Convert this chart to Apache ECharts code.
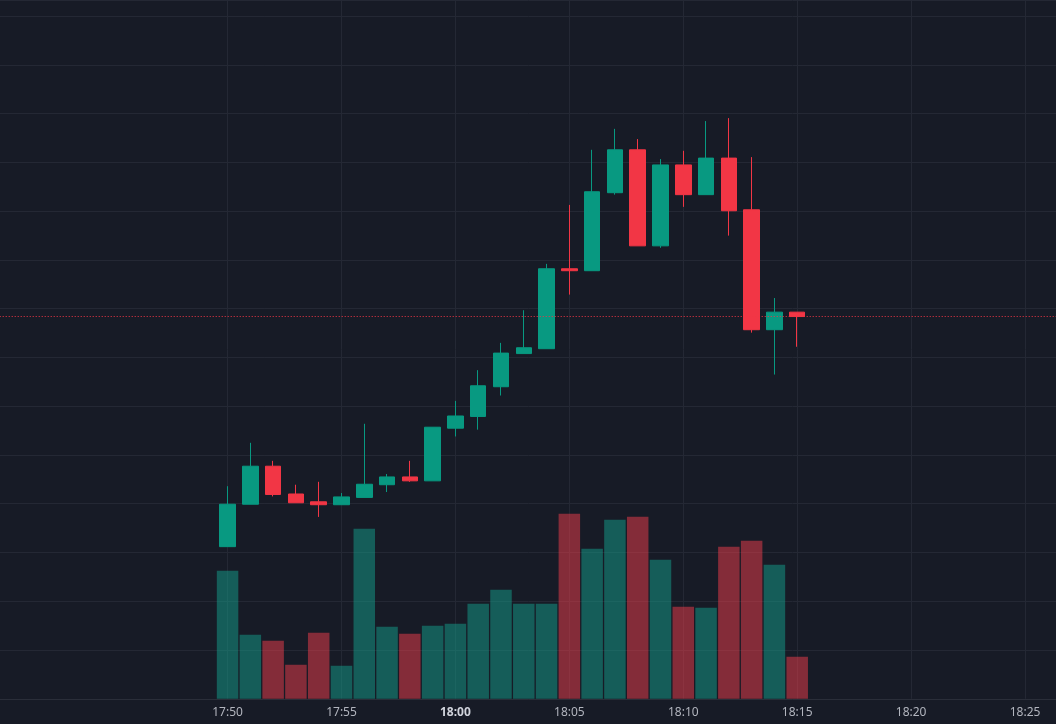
<!DOCTYPE html>
<html>
<head>
<meta charset="utf-8">
<title>candles</title>
<script src="https://cdn.jsdelivr.net/npm/echarts@6/dist/echarts.min.js"></script>
<style>
  html, body { margin: 0; padding: 0; background: #171b26; }
  #chart { width: 1056px; height: 724px; }
</style>
</head>
<body>
<div id="chart"></div>
<script>
// minute candles, 17:50 - 18:15
var candleTimes = ['17:50', '17:51', '17:52', '17:53', '17:54', '17:55', '17:56', '17:57', '17:58', '17:59',
    '18:00', '18:01', '18:02', '18:03', '18:04', '18:05', '18:06', '18:07', '18:08', '18:09',
    '18:10', '18:11', '18:12', '18:13', '18:14', '18:15'];
// [open, close, low, high]
var ohlc = [
    [1031.2, 1039.9, 1031.2, 1043.6],
    [1039.9, 1047.7, 1039.9, 1052.5],
    [1047.7, 1041.9, 1041.5, 1048.8],
    [1042.0, 1040.2, 1040.2, 1043.9],
    [1040.4, 1039.8, 1037.3, 1044.5],
    [1039.8, 1041.4, 1039.8, 1042.2],
    [1041.3, 1044.0, 1041.3, 1056.4],
    [1043.9, 1045.5, 1042.4, 1046.1],
    [1045.5, 1044.7, 1044.5, 1048.8],
    [1044.7, 1055.7, 1044.7, 1055.7],
    [1055.5, 1058.0, 1053.8, 1061.1],
    [1057.9, 1064.2, 1055.2, 1067.4],
    [1064.0, 1070.9, 1062.2, 1073.0],
    [1070.8, 1072.0, 1070.8, 1079.7],
    [1071.8, 1088.2, 1071.8, 1089.2],
    [1088.2, 1087.8, 1082.9, 1101.3],
    [1087.8, 1104.0, 1087.8, 1112.6],
    [1103.8, 1112.6, 1103.4, 1116.9],
    [1112.6, 1092.9, 1092.9, 1114.8],
    [1092.9, 1109.5, 1092.5, 1110.7],
    [1109.5, 1103.4, 1100.9, 1112.4],
    [1103.4, 1110.9, 1103.4, 1118.5],
    [1110.9, 1100.1, 1095.0, 1119.1],
    [1100.3, 1075.7, 1075.1, 1111.1],
    [1075.7, 1079.3, 1066.5, 1082.2],
    [1079.3, 1078.4, 1072.2, 1079.3]
];
var volumes = [128, 64, 58, 34, 66, 33, 170, 72, 65, 73, 75, 95, 109, 95, 95,
    185, 150, 179, 182, 139, 92, 91, 152, 158, 134, 42];
var lastPrice = 1078.4;

// time scale 17:40 .. 18:30
var axisTimes = [];
for (var m = 17 * 60 + 40; m <= 18 * 60 + 30; m++) {
    var hh = Math.floor(m / 60), mm = m % 60;
    axisTimes.push(hh + ':' + (mm < 10 ? '0' + mm : mm));
}

var upColor = '#089981', downColor = '#f23645';
var chart = echarts.init(document.getElementById('chart'));

// only every 5 minutes, starting at the first candle
function showTick(index, value) {
    var last = value.slice(-1);
    return index >= 10 && (last === '0' || last === '5');
}

var candleData = ohlc.map(function (d, i) { return [candleTimes[i]].concat(d); });
var volumeData = volumes.map(function (v, i) {
    var up = ohlc[i][1] >= ohlc[i][0];
    return {
        value: [candleTimes[i], v],
        itemStyle: { color: up ? 'rgba(20,160,140,0.5)' : 'rgba(242,62,76,0.5)' }
    };
});

var option = {
    backgroundColor: '#171b26',
    animation: false,
    grid: { left: -0.3, right: -83, top: 0, bottom: 25.25, containLabel: false, outerBoundsMode: 'none' },
    xAxis: {
        type: 'category',
        data: axisTimes,
        boundaryGap: false,
        axisLine: { show: true, lineStyle: { color: '#2a2e39' } },
        axisTick: { show: false },
        axisLabel: {
            interval: showTick,
            margin: 8,
            color: '#b2b5be',
            fontSize: 12,
            fontFamily: 'Noto Sans',
            formatter: function (v) {
                return v.slice(-2) === '00' ? '{b|' + v + '}' : v;
            },
            rich: { b: { fontWeight: 'bold', color: '#d1d4dc', fontSize: 12, fontFamily: 'Noto Sans' } }
        },
        splitLine: { show: true, interval: showTick, lineStyle: { color: '#242834', width: 1 } }
    },
    yAxis: [{
        type: 'value',
        min: 1000,
        max: 1143.33,
        interval: 10,
        axisLine: { show: false },
        axisTick: { show: false },
        axisLabel: { show: false },
        splitLine: { show: true, lineStyle: { color: '#242834', width: 1 } }
    }, {
        type: 'value',
        min: 0,
        max: 699,
        axisLine: { show: false },
        axisTick: { show: false },
        axisLabel: { show: false },
        splitLine: { show: false }
    }],
    series: [{
        type: 'bar',
        yAxisIndex: 1,
        barWidth: 21.5,
        data: volumeData,
        encode: { x: 0, y: 1 },
        z: 1
    }, {
        type: 'candlestick',
        barWidth: 16,
        data: candleData,
        encode: { x: 0, y: [1, 2, 3, 4] },
        itemStyle: {
            color: upColor,
            color0: downColor,
            borderColor: upColor,
            borderColor0: downColor,
            borderWidth: 1
        },
        z: 3,
        markLine: {
            silent: true,
            symbol: 'none',
            z: 10,
            label: { show: false },
            lineStyle: { color: downColor, type: [1, 2], width: 1 },
            data: [{ yAxis: lastPrice }]
        }
    }]
};
chart.setOption(option);
</script>
</body>
</html>
